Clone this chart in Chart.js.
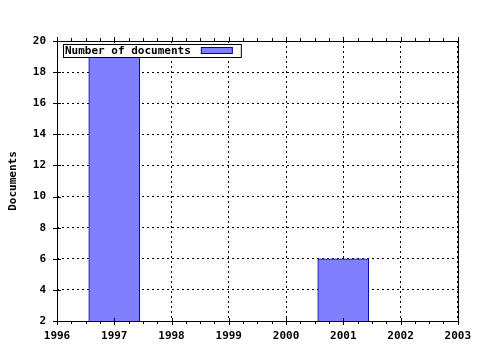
<!DOCTYPE html>
<html>
<head>
<meta charset="utf-8">
<script src="https://cdn.jsdelivr.net/npm/chart.js@4"></script>
<style>
  html, body { margin: 0; padding: 0; background: #fff; }
  #wrap { width: 480px; height: 350px; }
</style>
</head>
<body>
<div id="wrap"><canvas id="docs" width="480" height="350"></canvas></div>
<script>
// data
const years = [1997, 2001];
const documents = [19, 6];
const xTicks = [1996, 1997, 1998, 1999, 2000, 2001, 2002, 2003];
const yTicks = [2, 4, 6, 8, 10, 12, 14, 16, 18, 20];
const seriesLabel = 'Number of documents';

const monoFont = { family: "'DejaVu Sans Mono', monospace", size: 11, weight: 'bold' };

// tick marks + frame + legend box, drawn on top of the chart area
const frameAndTicks = {
  id: 'frameAndTicks',
  afterDraw(chart) {
    const { ctx, chartArea: a, scales: { x, y } } = chart;
    ctx.save();
    ctx.strokeStyle = '#000';
    ctx.lineWidth = 1;
    ctx.beginPath();
    // x major ticks
    xTicks.forEach(v => {
      const px = Math.round(x.getPixelForValue(v)) + 0.5;
      ctx.moveTo(px, a.bottom - 3); ctx.lineTo(px, a.bottom + 4);
      ctx.moveTo(px, a.top - 4); ctx.lineTo(px, a.top + 1);
    });
    // x minor ticks every quarter year
    for (let i = 0; i < xTicks.length - 1; i++) {
      for (let k = 1; k < 4; k++) {
        const px = Math.round(x.getPixelForValue(xTicks[i] + k / 4)) + 0.5;
        ctx.moveTo(px, a.bottom); ctx.lineTo(px, a.bottom + 3);
        ctx.moveTo(px, a.top); ctx.lineTo(px, a.top - 3);
      }
    }
    // y major ticks
    yTicks.forEach(v => {
      const py = Math.round(y.getPixelForValue(v)) + 0.5;
      ctx.moveTo(a.left - 4, py); ctx.lineTo(a.left + 4, py);
    });
    ctx.stroke();
    ctx.strokeRect(Math.round(a.left) + 0.5, Math.round(a.top) + 0.5,
                   Math.round(a.right - a.left), Math.round(a.bottom - a.top));

    // legend box inside the plot, top left
    const ds = chart.data.datasets[0];
    const lx = a.left + 6, ly = a.top + 3;
    ctx.font = 'bold 11px "DejaVu Sans Mono", monospace';
    const tw = ctx.measureText(seriesLabel).width;
    const bw = tw + 52, bh = 13;
    ctx.fillStyle = '#fff';
    ctx.fillRect(lx + 0.5, ly + 0.5, bw, bh);
    ctx.strokeRect(lx + 0.5, ly + 0.5, bw, bh);
    ctx.fillStyle = '#000';
    ctx.textBaseline = 'middle';
    ctx.fillText(seriesLabel, lx + 2, ly + bh / 2 + 1);
    ctx.fillStyle = ds.backgroundColor;
    ctx.fillRect(lx + tw + 12.5, ly + 3.5, 31, 6);
    ctx.strokeStyle = ds.borderColor;
    ctx.strokeRect(lx + tw + 12.5, ly + 3.5, 31, 6);
    ctx.restore();
  }
};

new Chart(document.getElementById('docs'), {
  type: 'bar',
  data: {
    datasets: [{
      label: seriesLabel,
      data: years.map((yr, i) => ({ x: yr, y: documents[i] })),
      backgroundColor: '#8080ff',
      borderColor: '#0000aa',
      borderWidth: 1,
      barThickness: 51
    }]
  },
  options: {
    responsive: false,
    animation: false,
    layout: { padding: { left: 0, top: 41, right: 21, bottom: 0 } },
    plugins: {
      legend: { display: false },
      tooltip: { enabled: false }
    },
    scales: {
      x: {
        type: 'linear',
        min: 1996,
        max: 2003,
        offset: false,
        afterFit(s) { s.height = 29; },
        afterBuildTicks(s) { s.ticks = xTicks.map(v => ({ value: v })); },
        ticks: {
          color: '#000',
          font: monoFont,
          padding: 9,
          callback: v => String(v)
        },
        grid: {
          color: '#000',
          offset: false,
          drawTicks: false
        },
        border: { display: false, dash: [2, 3] }
      },
      y: {
        min: 2,
        max: 20,
        afterFit(s) { s.width = 57; },
        afterBuildTicks(s) { s.ticks = yTicks.map(v => ({ value: v })); },
        ticks: {
          color: '#000',
          font: monoFont,
          padding: 11
        },
        title: {
          display: true,
          text: 'Documents',
          color: '#000',
          font: monoFont,
          padding: { top: 7, bottom: 0 }
        },
        grid: {
          color: '#000',
          drawTicks: false
        },
        border: { display: false, dash: [2, 3] }
      }
    }
  },
  plugins: [frameAndTicks]
});
</script>
</body>
</html>
